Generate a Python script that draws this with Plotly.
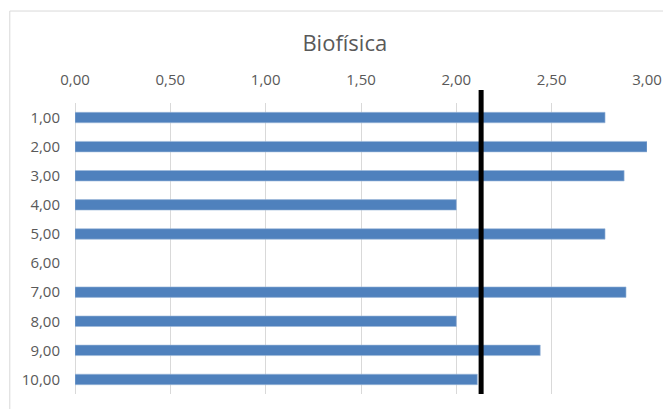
import plotly.graph_objects as go

categorias = ["1,00", "2,00", "3,00", "4,00", "5,00", "6,00", "7,00", "8,00", "9,00", "10,00"]
valores = [2.78, 3.00, 2.88, 2.00, 2.78, None, 2.89, 2.00, 2.44, 2.11]
promedio = 2.13
titulo = "Biofísica"

fig = go.Figure()
fig.add_trace(go.Bar(
    y=categorias, x=valores, orientation="h",
    marker=dict(color="#4F81BD", line=dict(color="#9DB8DA", width=0.6)),
    width=0.36, showlegend=False,
))

# vertical reference line
fig.add_shape(type="line", xref="x", yref="paper", x0=promedio, x1=promedio,
              y0=0, y1=1.045, line=dict(color="black", width=5), layer="above")
# chart border
fig.add_shape(type="rect", xref="paper", yref="paper", x0=-0.114, x1=1.1,
              y0=-0.2, y1=1.316, line=dict(color="#D9D9D9", width=1), layer="below")

fig.update_layout(
    width=663, height=401,
    margin=dict(l=67, r=24, t=95, b=15, autoexpand=False),
    paper_bgcolor="white", plot_bgcolor="white",
    separators=", ",
    font=dict(family="Open Sans", color="#595959", size=15),
    title=dict(text=titulo, x=0.508, xref="container", xanchor="center",
               y=0.913, yref="container", yanchor="middle",
               font=dict(size=22, color="#595959")),
)
fig.update_xaxes(side="top", range=[0, 3.0], dtick=0.5, tick0=0, tickformat=".2f",
                 showgrid=True, gridcolor="#D9D9D9", gridwidth=1,
                 zeroline=True, zerolinecolor="#D9D9D9", zerolinewidth=1,
                 showline=False, ticks="outside", ticklen=11, tickcolor="rgba(0,0,0,0)",
                 fixedrange=True)
fig.update_yaxes(autorange="reversed", showgrid=False, showline=False,
                 ticks="outside", ticklen=11, tickcolor="rgba(0,0,0,0)",
                 type="category")

fig.write_html("out.html")
